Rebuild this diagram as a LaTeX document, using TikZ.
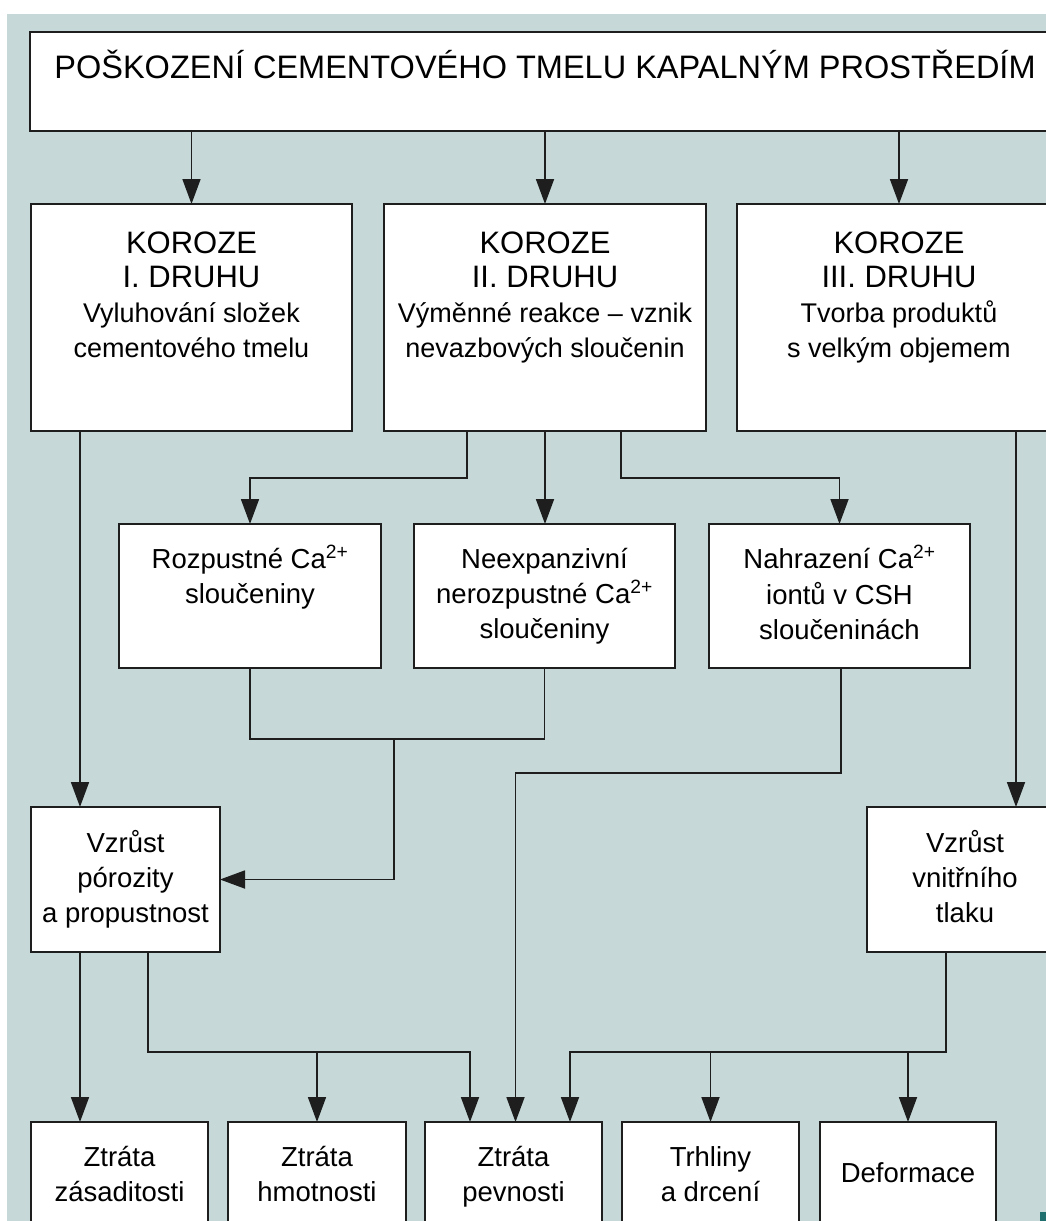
\documentclass[tikz,border=0pt]{standalone}
\usepackage{fontspec}
\setmainfont{Liberation Sans}
\usetikzlibrary{arrows.meta}
\definecolor{bg}{RGB}{198,217,216}
\definecolor{ln}{RGB}{30,30,30}
\definecolor{tealmark}{RGB}{30,110,110}
\begin{document}
\begin{tikzpicture}[x=1pt,y=-1pt,
  box/.style={draw=ln, line width=1.8pt, fill=white, inner sep=0pt, outer sep=0pt, anchor=north west},
  conn/.style={draw=ln, line width=1.8pt},
  arr/.style={conn, -{Triangle[length=25pt,width=18pt]}},
  ttl/.style={font=\fontsize{32.5}{38}\selectfont, inner sep=0pt, anchor=base},
  hd/.style={font=\fontsize{31}{34}\selectfont, inner sep=0pt, anchor=base},
  sub/.style={font=\fontsize{27}{35}\selectfont, inner sep=0pt, anchor=base},
  txt/.style={font=\fontsize{27.5}{35}\selectfont, inner sep=0pt, anchor=base},
]
\useasboundingbox (0,0) rectangle (1046,1221);
\clip (0,0) rectangle (1046,1221);
\fill[white] (0,0) rectangle (1046,1221);
\fill[bg] (7,14) rectangle (1046,1221);

% boxes
\node[box, minimum width=1030pt, minimum height=99pt] (top) at (30,32) {};
\node[box, minimum width=321pt, minimum height=227pt] (k1) at (31,204) {};
\node[box, minimum width=322pt, minimum height=227pt] (k2) at (384,204) {};
\node[box, minimum width=324pt, minimum height=227pt] (k3) at (737,204) {};
\node[box, minimum width=262pt, minimum height=144pt] (r1) at (119,524) {};
\node[box, minimum width=261pt, minimum height=144pt] (r2) at (414,524) {};
\node[box, minimum width=261pt, minimum height=144pt] (r3) at (709,524) {};
\node[box, minimum width=189pt, minimum height=145pt] (v1) at (31,807) {};
\node[box, minimum width=196pt, minimum height=145pt] (v2) at (867,807) {};
\node[box, minimum width=177pt, minimum height=140pt] (b1) at (31,1122) {};
\node[box, minimum width=178pt, minimum height=140pt] (b2) at (228,1122) {};
\node[box, minimum width=177pt, minimum height=140pt] (b3) at (425,1122) {};
\node[box, minimum width=177pt, minimum height=140pt] (b4) at (622,1122) {};
\node[box, minimum width=176pt, minimum height=140pt] (b5) at (820,1122) {};

% texts
\node[ttl] (tt) at (545,78) {POŠKOZENÍ CEMENTOVÉHO TMELU KAPALNÝM PROSTŘEDÍM};

\node[hd] (k1a) at (191.5,253) {KOROZE};
\node[hd] (k1b) at (191.5,287) {I. DRUHU};
\node[sub] (k1c) at (191.5,322) {Vyluhování složek};
\node[sub] (k1d) at (191.5,357) {cementového tmelu};

\node[hd] (k2a) at (545,253) {KOROZE};
\node[hd] (k2b) at (545,287) {II. DRUHU};
\node[sub] (k2c) at (545,322) {Výměnné reakce – vznik};
\node[sub] (k2d) at (545,357) {nevazbových sloučenin};

\node[hd] (k3a) at (899,253) {KOROZE};
\node[hd] (k3b) at (899,287) {III. DRUHU};
\node[sub] (k3c) at (899,322) {Tvorba produktů};
\node[sub] (k3d) at (899,357) {s velkým objemem};

\node[txt] (r1a) at (250,568) {Rozpustné Ca\textsuperscript{2+}};
\node[txt] (r1b) at (250,603) {sloučeniny};

\node[txt] (r2a) at (544.5,568) {Neexpanzivní};
\node[txt] (r2b) at (544.5,603) {nerozpustné Ca\textsuperscript{2+}};
\node[txt] (r2c) at (544.5,638) {sloučeniny};

\node[txt] (r3a) at (839.5,568) {Nahrazení Ca\textsuperscript{2+}};
\node[txt] (r3b) at (839.5,604) {iontů v CSH};
\node[txt] (r3c) at (839.5,639) {sloučeninách};

\node[txt] (v1a) at (125.5,852) {Vzrůst};
\node[txt] (v1b) at (125.5,887) {pórozity};
\node[txt] (v1c) at (125.5,922) {a propustnost};

\node[txt] (v2a) at (965,852) {Vzrůst};
\node[txt] (v2b) at (965,887) {vnitřního};
\node[txt] (v2c) at (965,922) {tlaku};

\node[txt] (b1a) at (119.5,1166) {Ztráta};
\node[txt] (b1b) at (119.5,1201) {zásaditosti};
\node[txt] (b2a) at (317,1166) {Ztráta};
\node[txt] (b2b) at (317,1201) {hmotnosti};
\node[txt] (b3a) at (513.5,1166) {Ztráta};
\node[txt] (b3b) at (513.5,1201) {pevnosti};
\node[txt] (b4a) at (710.5,1166) {Trhliny};
\node[txt] (b4b) at (710.5,1201) {a drcení};
\node[txt] (b5a) at (908,1182) {Deformace};

% connectors
\draw[arr] (top.south -| k1.north) -- (k1.north);
\draw[arr] (top.south -| k2.north) -- (k2.north);
\draw[arr] (top.south -| k3.north) -- (k3.north);

\coordinate (l80) at ([xshift=-45.5pt]v1.north);
\draw[arr] (l80 |- k1.south) -- (l80);
\coordinate (l1016) at ([xshift=51pt]v2.north);
\draw[arr] (l1016 |- k3.south) -- (l1016);

\draw[arr] ([xshift=-78pt]k2.south) -- ++(0,47) -| (r1.north);
\draw[arr] (k2.south) -- (k2.south |- r2.north);
\draw[arr] ([xshift=76pt]k2.south) -- ++(0,47) -| (r3.north);

\draw[conn] (r1.south) -- ++(0,71) -| (r2.south);
\coordinate (j1) at (394,739);
\draw[arr] (j1) |- (v1.east);

\draw[arr] ([xshift=1.5pt]r3.south) -- ++(0,105) -| ([xshift=2pt]b3.north);

\draw[arr] (l80 |- v1.south) -- (l80 |- b1.north);
\coordinate (l148) at ([xshift=22.5pt]v1.south);
\coordinate (bus) at (0,1052);
\draw[arr] (l148) -- (l148 |- bus) -| ([xshift=-43.5pt]b3.north);
\draw[arr] (b2.north |- bus) -- (b2.north);
\coordinate (l946) at ([xshift=-19pt]v2.south);
\draw[arr] (l946) -- (l946 |- bus) -| ([xshift=56.5pt]b3.north);
\draw[arr] (b4.north |- bus) -- (b4.north);
\draw[arr] (b5.north |- bus) -- (b5.north);

\fill[tealmark] (1040,1212) rectangle (1046,1221);
\end{tikzpicture}
\end{document}
